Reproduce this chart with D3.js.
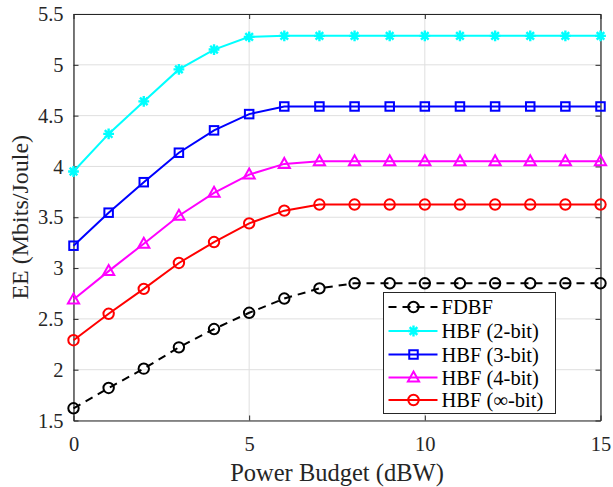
<!DOCTYPE html>
<html><head><meta charset="utf-8">
<script src="https://cdn.jsdelivr.net/npm/d3@7"></script>
<style>body{margin:0;background:#fff}svg{display:block}
svg text{font-family:"Liberation Serif","Times New Roman",Times,serif !important;}
</style>
</head><body>
<script>
const xValues = [0,1,2,3,4,5,6,7,8,9,10,11,12,13,14,15];
const fdbf  = [1.62,1.82,2.01,2.22,2.40,2.56,2.70,2.80,2.85,2.85,2.85,2.85,2.85,2.85,2.85,2.85];
const hbf2  = [3.95,4.32,4.64,4.955,5.15,5.275,5.285,5.285,5.285,5.285,5.285,5.285,5.285,5.285,5.285,5.285];
const hbf3  = [3.22,3.545,3.845,4.135,4.355,4.515,4.59,4.59,4.59,4.59,4.59,4.59,4.59,4.59,4.59,4.59];
const hbf4  = [2.69,2.97,3.24,3.515,3.74,3.92,4.025,4.05,4.05,4.05,4.05,4.05,4.05,4.05,4.05,4.05];
const hbfInf= [2.29,2.55,2.795,3.05,3.256,3.44,3.565,3.625,3.625,3.625,3.625,3.625,3.625,3.625,3.625,3.625];
const seriesNames = ["FDBF","HBF (2-bit)","HBF (3-bit)","HBF (4-bit)","HBF (\u221E-bit)"];
const xTicks = [0,5,10,15];
const yTicks = [1.5,2,2.5,3,3.5,4,4.5,5,5.5];
const xLabel = "Power Budget (dBW)";
const yLabel = "EE (Mbits/Joule)";

const series = [
  {name:seriesNames[0], values:fdbf,  color:"#000000", marker:"circle", dash:"8,6"},
  {name:seriesNames[1], values:hbf2,  color:"#00ffff", marker:"asterisk", dash:null},
  {name:seriesNames[2], values:hbf3,  color:"#0000ff", marker:"square", dash:null},
  {name:seriesNames[3], values:hbf4,  color:"#ff00ff", marker:"triangle", dash:null},
  {name:seriesNames[4], values:hbfInf,color:"#ff0000", marker:"circle", dash:null}
];

const W=613,H=487;
const L=73.5,T=14,R=600.5,B=420.5;
const svg=d3.select("body").append("svg").attr("width",W).attr("height",H);
const x=d3.scaleLinear().domain([0,15]).range([L,R]);
const y=d3.scaleLinear().domain([1.5,5.5]).range([B,T]);

// grid
const g=svg.append("g");
g.selectAll(".gx").data(xTicks).join("line").attr("x1",d=>x(d)).attr("x2",d=>x(d)).attr("y1",T).attr("y2",B)
  .attr("stroke","#dfdfdf").attr("stroke-width",1);
g.selectAll(".gy").data(yTicks).join("line").attr("y1",d=>y(d)).attr("y2",d=>y(d)).attr("x1",L).attr("x2",R)
  .attr("stroke","#dfdfdf").attr("stroke-width",1);

// axes
const axColor="#262626";
const xAxis=svg.append("g").attr("transform",`translate(0,${B})`)
  .call(d3.axisBottom(x).tickValues(xTicks).tickSizeInner(-5).tickSizeOuter(0).tickPadding(15.5).tickFormat(d3.format("d")));
const xAxisTop=svg.append("g").attr("transform",`translate(0,${T})`)
  .call(d3.axisTop(x).tickValues(xTicks).tickSizeInner(-5).tickSizeOuter(0).tickFormat(""));
const yAxis=svg.append("g").attr("transform",`translate(${L},0)`)
  .call(d3.axisLeft(y).tickValues(yTicks).tickSizeInner(-5).tickSizeOuter(0).tickPadding(10).tickFormat(d=>String(d)));
const yAxisR=svg.append("g").attr("transform",`translate(${R},0)`)
  .call(d3.axisRight(y).tickValues(yTicks).tickSizeInner(-5).tickSizeOuter(0).tickFormat(""));
[xAxis,xAxisTop,yAxis,yAxisR].forEach(a=>{
  a.attr("font-family",null);
  a.select(".domain").attr("stroke",axColor).attr("stroke-width",1.2);
  a.selectAll(".tick line").attr("stroke",axColor);
  a.selectAll("text").attr("fill","#262626").style("font-size","20.5px");
});

// lines
const line=d3.line().x((d,i)=>x(xValues[i])).y(d=>y(d));
const plot=svg.append("g");
function drawMarker(sel,type,color){
  if(type==="circle"){
    sel.append("circle").attr("r",5.2).attr("fill","none").attr("stroke",color).attr("stroke-width",2);
  } else if(type==="square"){
    const s=8.5;
    sel.append("rect").attr("x",-s/2).attr("y",-s/2).attr("width",s).attr("height",s).attr("fill","none").attr("stroke",color).attr("stroke-width",2);
  } else if(type==="triangle"){
    sel.append("path").attr("d",`M0,-6L5.6,4L-5.6,4Z`).attr("fill","none").attr("stroke",color).attr("stroke-width",2);
  } else if(type==="asterisk"){
    const s=5.4;
    let d="";
    for(let k=0;k<4;k++){const a=k*Math.PI/4;d+=`M${-s*Math.cos(a)},${-s*Math.sin(a)}L${s*Math.cos(a)},${s*Math.sin(a)}`;}
    sel.append("path").attr("d",d).attr("stroke",color).attr("stroke-width",2.4).attr("fill","none");
  }
}
series.forEach(s=>{
  plot.append("path").datum(s.values).attr("d",line).attr("fill","none").attr("stroke",s.color)
    .attr("stroke-width",2).attr("stroke-dasharray",s.dash);
  plot.selectAll(null).data(s.values).join("g").attr("transform",(d,i)=>`translate(${x(xValues[i])},${y(d)})`)
    .each(function(){drawMarker(d3.select(this),s.marker,s.color);});
});

// legend
const lg=svg.append("g");
const lx=383.5,ly=292.5,lw=172,lh=121;
lg.append("rect").attr("x",lx).attr("y",ly).attr("width",lw).attr("height",lh).attr("fill","#fff").attr("stroke","#262626").attr("stroke-width",1);
const rowY=[307,331,354.5,377.5,400];
series.forEach((s,i)=>{
  const row=lg.append("g").attr("transform",`translate(0,${rowY[i]})`);
  row.append("line").attr("x1",lx+5).attr("x2",lx+54).attr("y1",0).attr("y2",0).attr("stroke",s.color).attr("stroke-width",2).attr("stroke-dasharray",s.dash);
  const m=row.append("g").attr("transform",`translate(${lx+30},0)`);
  drawMarker(m,s.marker,s.color);
  row.append("text").attr("x",lx+58).attr("y",7).text(s.name).style("font-size","20.5px").attr("fill","#000");
});

// labels
svg.append("text").attr("x",(L+R)/2).attr("y",481).attr("text-anchor","middle").style("font-size","24.5px").attr("fill","#262626").text(xLabel);
svg.append("text").attr("transform",`translate(28,${(T+B)/2}) rotate(-90)`).attr("text-anchor","middle").style("font-size","24px").attr("fill","#262626").text(yLabel);
</script>
</body></html>
